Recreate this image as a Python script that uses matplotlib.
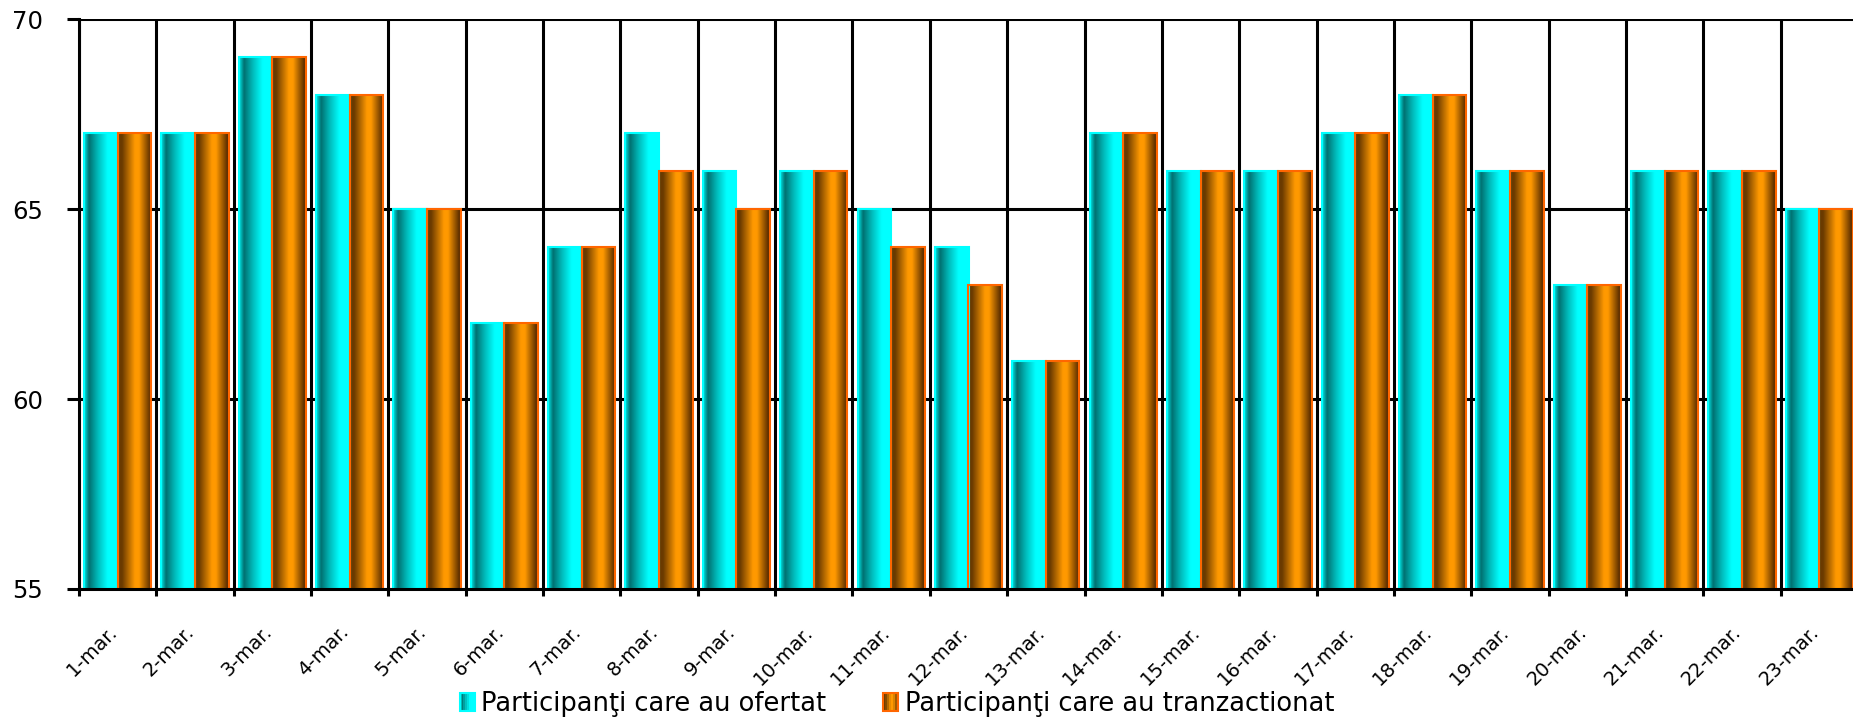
import numpy as np
import matplotlib
matplotlib.use("Agg")
import matplotlib.pyplot as plt
from matplotlib.colors import LinearSegmentedColormap
from matplotlib.patches import Rectangle
from matplotlib.legend_handler import HandlerBase
import matplotlib.transforms as mtransforms

categories = ["1-mar.", "2-mar.", "3-mar.", "4-mar.", "5-mar.", "6-mar.", "7-mar.",
              "8-mar.", "9-mar.", "10-mar.", "11-mar.", "12-mar.", "13-mar.",
              "14-mar.", "15-mar.", "16-mar.", "17-mar.", "18-mar.", "19-mar.",
              "20-mar.", "21-mar.", "22-mar.", "23-mar."]
ofertat = [67, 67, 69, 68, 65, 62, 64, 67, 66, 66, 65, 64, 61, 67, 66, 66, 67, 68, 66, 63, 66, 66, 65]
tranzactionat = [67, 67, 69, 68, 65, 62, 64, 66, 65, 66, 64, 63, 61, 67, 66, 66, 67, 68, 66, 63, 66, 66, 65]
series_names = ["Participanţi care au ofertat", "Participanţi care au tranzactionat"]
yticks = [55, 60, 65, 70]

cyan_cmap = LinearSegmentedColormap.from_list(
    "cy", [(0.0, "#00E8E8"), (0.15, "#007070"), (0.4, "#00B8B8"), (0.7, "#00FFFF"), (1.0, "#00FFFF")])
orange_cmap = LinearSegmentedColormap.from_list(
    "or", [(0.0, "#6A3A00"), (0.12, "#6A3A00"), (0.5, "#FF9900"), (0.62, "#FF9900"), (0.95, "#5E3000"), (1.0, "#5E3000")])
grad = np.linspace(0, 1, 256).reshape(1, -1)

fig = plt.figure(figsize=(18.53, 7.18), dpi=100)
ax = fig.add_axes([79 / 1853, 1 - 589 / 718, (1858 - 79) / 1853, (589 - 19.3) / 718])

x = np.arange(len(categories))
w = 0.435
b1 = ax.bar(x - w / 2, ofertat, width=w, facecolor="none", edgecolor="#00FFFF", linewidth=1.5, zorder=3)
b2 = ax.bar(x + w / 2, tranzactionat, width=w, facecolor="none", edgecolor="#FF6600", linewidth=1.5, zorder=3)

ax.set_ylim(55, 70)
ax.set_xlim(-0.5, len(categories) - 0.5)

for bars, cmap in ((b1, cyan_cmap), (b2, orange_cmap)):
    for p in bars:
        x0 = p.get_x()
        x1 = x0 + p.get_width()
        h = p.get_height()
        im = ax.imshow(grad, cmap=cmap, extent=[x0, x1, 55, h], aspect="auto",
                       interpolation="bilinear", zorder=2.5)
        im.set_clip_path(p)

ax.set_autoscale_on(False)
ax.set_xlim(-0.5, len(categories) - 0.5)
ax.set_ylim(55, 70)

# gridlines
for yv in yticks:
    ax.axhline(yv, color="black", lw=2.2, zorder=1)
for xb in np.arange(-0.5, len(categories)):
    ax.axvline(xb, color="black", lw=2.2, zorder=1)

for s in ["top", "right"]:
    ax.spines[s].set_visible(False)
ax.spines["left"].set_linewidth(2.2)
ax.spines["bottom"].set_linewidth(2.2)
ax.spines["bottom"].set_zorder(4)

ax.set_yticks(yticks)
ax.set_yticklabels([str(v) for v in yticks], fontsize=17.5)
ax.tick_params(axis="y", direction="out", length=9, width=2.2, pad=17)

ax.set_xticks(x)
ax.set_xticklabels(categories, fontsize=14, rotation=45, ha="right")
ax.tick_params(axis="x", which="major", length=0, pad=24)
ax.set_xticks(np.arange(-0.5, len(categories)), minor=True)
ax.tick_params(axis="x", which="minor", direction="out", length=5, width=2.2)
offset = mtransforms.ScaledTranslation(0.03, 0, fig.dpi_scale_trans)
for lab in ax.get_xticklabels():
    lab.set_transform(lab.get_transform() + offset)


class GradHandler(HandlerBase):
    def __init__(self, cmap, edge):
        super().__init__()
        self.cmap = cmap
        self.edge = edge

    def create_artists(self, legend, orig_handle, xdescent, ydescent, width, height, fontsize, trans):
        arts = []
        n = 8
        for i in range(n):
            c = self.cmap((i + 0.5) / n)
            r = Rectangle((i * width / n, -ydescent), width / n, height,
                          facecolor=c, edgecolor="none", transform=trans)
            arts.append(r)
        r = Rectangle((0, -ydescent), width, height, facecolor="none",
                      edgecolor=self.edge, lw=1.5, transform=trans)
        arts.append(r)
        return arts


h1 = Rectangle((0, 0), 1, 1)
h2 = Rectangle((0, 0), 1, 1)
fig.legend([h1, h2], series_names, loc="center", bbox_to_anchor=(897 / 1853, 1 - 704 / 718),
           ncol=2, frameon=False, fontsize=18.5, handlelength=0.6, handleheight=0.65,
           handletextpad=0.25, columnspacing=2.2, borderpad=0.1,
           handler_map={h1: GradHandler(cyan_cmap, "#00FFFF"), h2: GradHandler(orange_cmap, "#FF6600")})

fig.savefig("out.png", dpi=100)
